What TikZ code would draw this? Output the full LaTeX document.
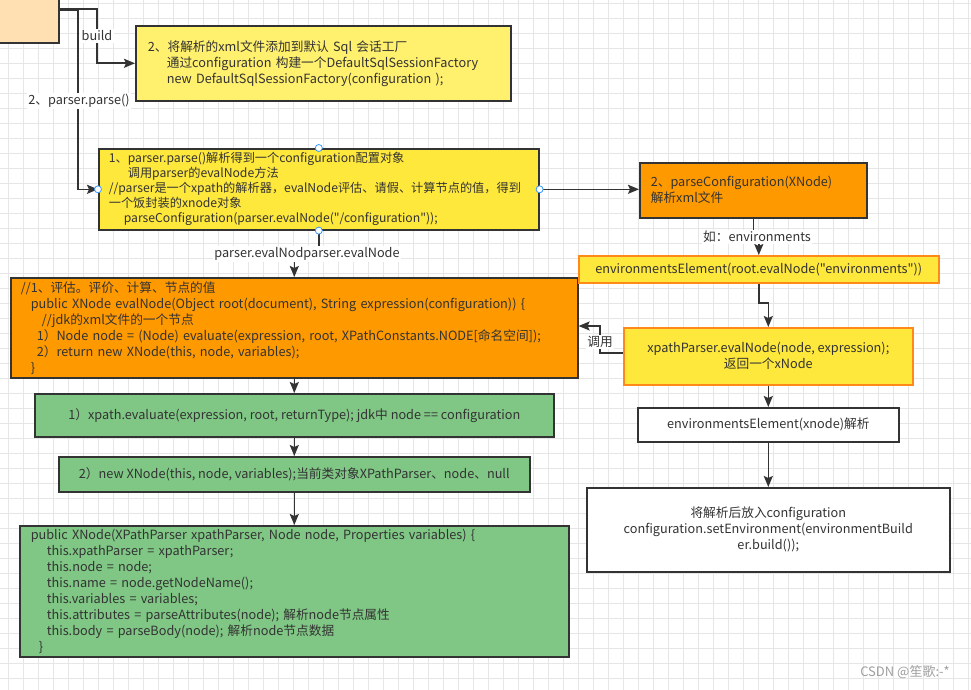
\documentclass[tikz,border=0pt]{standalone}
\usepackage{fontspec}
\setmainfont{Noto Sans CJK SC}[Ligatures=TeXOff]
\usepackage{tikz}
\usetikzlibrary{arrows.meta}
\usepackage{xcolor}
\definecolor{peach}{HTML}{FFE0B3}
\definecolor{ylight}{HTML}{FFF06E}
\definecolor{ybright}{HTML}{FFE83C}
\definecolor{orangefill}{HTML}{FF9900}
\definecolor{orangeline}{HTML}{FF8A1A}
\definecolor{greenfill}{HTML}{80C785}
\definecolor{darkline}{HTML}{333333}
\definecolor{handleblue}{HTML}{3399FF}
\definecolor{gridgray}{HTML}{E6E6E6}

\begin{document}
\begin{tikzpicture}[x=1pt,y=-1pt,
  box/.style={draw=darkline, line width=1.6pt, text=darkline, inner ysep=0pt,
    font=\fontsize{12.7}{16}\selectfont},
  leftbox/.style={box, align=left, anchor=north west},
  midbox/.style={box, align=center, anchor=north west},
  conn/.style={draw=darkline, line width=1.6pt, -{Stealth[length=11pt,width=9pt,inset=2pt]}},
  lbl/.style={fill=white, text=darkline, inner sep=1.5pt, font=\fontsize{12.7}{15}\selectfont},
  handle/.style={circle, draw=handleblue, fill=white, line width=0.8pt, inner sep=0pt, minimum size=7pt}]
\useasboundingbox (0,0) rectangle (971,690);
\fill[white] (0,0) rectangle (971,690);
\foreach \gx in {8,23,...,968} \draw[gridgray, line width=0.6pt] (\gx,0) -- (\gx,690);
\foreach \gy in {3,18,...,690} \draw[gridgray, line width=0.6pt] (0,\gy) -- (971,\gy);

% left column
\node[box, fill=peach, minimum width=80pt, minimum height=60pt, anchor=south east] (start) at (60,44) {};
\node[leftbox, fill=ylight, text width=351pt, inner xsep=12pt, minimum height=75pt] (factory) at (135,25)
  {2、将解析的xml文件添加到默认 Sql 会话工厂\\
   \hspace*{19pt}通过configuration 构建一个DefaultSqlSessionFactory\\
   \hspace*{19pt}new DefaultSqlSessionFactory(configuration );};
\node[leftbox, fill=ybright, text width=420pt, inner xsep=10pt, minimum height=81pt,
  font=\fontsize{12.2}{15}\selectfont] (parse) at (98,148)
  {1、parser.parse()解析得到一个configuration配置对象\\
   \hspace*{19pt}调用parser的evalNode方法\\
   //parser是一个xpath的解析器，evalNode评估、请假、计算节点的值，得到\\
   一个饭封装的xnode对象\\
   \hspace*{15pt}parseConfiguration(parser.evalNode("/configuration"));};
\node[leftbox, fill=orangefill, text width=547pt, inner xsep=10pt, minimum height=100pt] (evalnode) at (10,277)
  {//1、评估。评价、计算、节点的值\\
   \hspace*{10pt}public XNode evalNode(Object root(document), String expression(configuration)) \{\\
   \hspace*{21pt}//jdk的xml文件的一个节点\\
   \hspace*{16pt}1）Node node = (Node) evaluate(expression, root, XPathConstants.NODE[命名空间]);\\
   \hspace*{16pt}2）return new XNode(this, node, variables);\\
   \hspace*{10pt}\}};
\node[midbox, fill=greenfill, minimum width=519pt, minimum height=43pt] (evaluate) at (34,393)
  {1）xpath.evaluate(expression, root, returnType); jdk中 node == configuration};
\node[midbox, fill=greenfill, minimum width=471pt, minimum height=35pt] (newxnode) at (58,456)
  {2）new XNode(this, node, variables);当前类对象XPathParser、node、null};
\node[leftbox, fill=greenfill, text width=527pt, inner xsep=11pt, minimum height=131pt] (ctor) at (19,525)
  {public XNode(XPathParser xpathParser, Node node, Properties variables) \{\\
   \hspace*{16pt}this.xpathParser = xpathParser;\\
   \hspace*{16pt}this.node = node;\\
   \hspace*{16pt}this.name = node.getNodeName();\\
   \hspace*{16pt}this.variables = variables;\\
   \hspace*{16pt}this.attributes = parseAttributes(node); 解析node节点属性\\
   \hspace*{16pt}this.body = parseBody(node); 解析node节点数据\\
   \hspace*{8pt}\}};

% right column
\node[leftbox, fill=orangefill, text width=205pt, inner xsep=11pt, minimum height=55pt] (pconf) at (639,162)
  {2、parseConfiguration(XNode)\\解析xml文件};
\node[midbox, fill=ybright, draw=orangeline, minimum width=360pt, minimum height=27pt] (envel) at (578,255)
  {environmentsElement(root.evalNode("environments"))};
\node[midbox, fill=ybright, draw=orangeline, minimum width=289pt, minimum height=57pt] (xpe) at (623,327)
  {xpathParser.evalNode(node, expression);\\返回一个xNode};
\node[midbox, fill=white, minimum width=261pt, minimum height=34pt] (xpel) at (637,407)
  {environmentsElement(xnode)解析};
\node[midbox, fill=white, minimum width=363pt, minimum height=84pt] (setenv) at (586,487)
  {将解析后放入configuration\\
   configuration.setEnvironment(environmentBuild\\
   er.build());};

% connectors
\draw[conn] (start.east |- 0,9) -- (97,9) |- (factory.west);
\draw[conn] (start.east |- 0,10) -- (78,10) |- (parse.west);
\draw[conn] (parse.east) -- (parse.east -| pconf.west);
\draw[conn] (parse.south) |- (evalnode.north |- 0,253) -- (evalnode.north);
\draw[conn] (evalnode.south) -- (evaluate.north);
\draw[conn] (evaluate.south) -- (newxnode.north);
\draw[conn] (newxnode.south) -- (ctor.north);
\draw[conn] (pconf.south) |- (envel.north |- 0,237) -- (envel.north);
\draw[conn] (envel.south) |- (xpe.north |- 0,303) -- (xpe.north);
\draw[conn] (xpe.west |- 0,353) -- (600,353) |- (evalnode.east |- 0,326);
\draw[conn] (xpe.south) -- (xpel.north);
\draw[conn] (xpel.south) -- (setenv.north);

\node[lbl] (lbuild) at (97,36) {build};
\node[lbl] (lparse) at (79,101) {2、parser.parse()};
\node[lbl] (leval) at (307,254) {parser.evalNodparser.evalNode};
\node[lbl] (lenv) at (757,237) {如：environments};
\node[lbl] (lcall) at (600,342) {调用};

\foreach \a in {north,south,east,west}
  \node[handle] (h\a) at (parse.\a) {};

\node[text=gray!75, font=\fontsize{13}{15}\selectfont] (mark) at (905,672) {CSDN @笙歌:-*};
\end{tikzpicture}
\end{document}
